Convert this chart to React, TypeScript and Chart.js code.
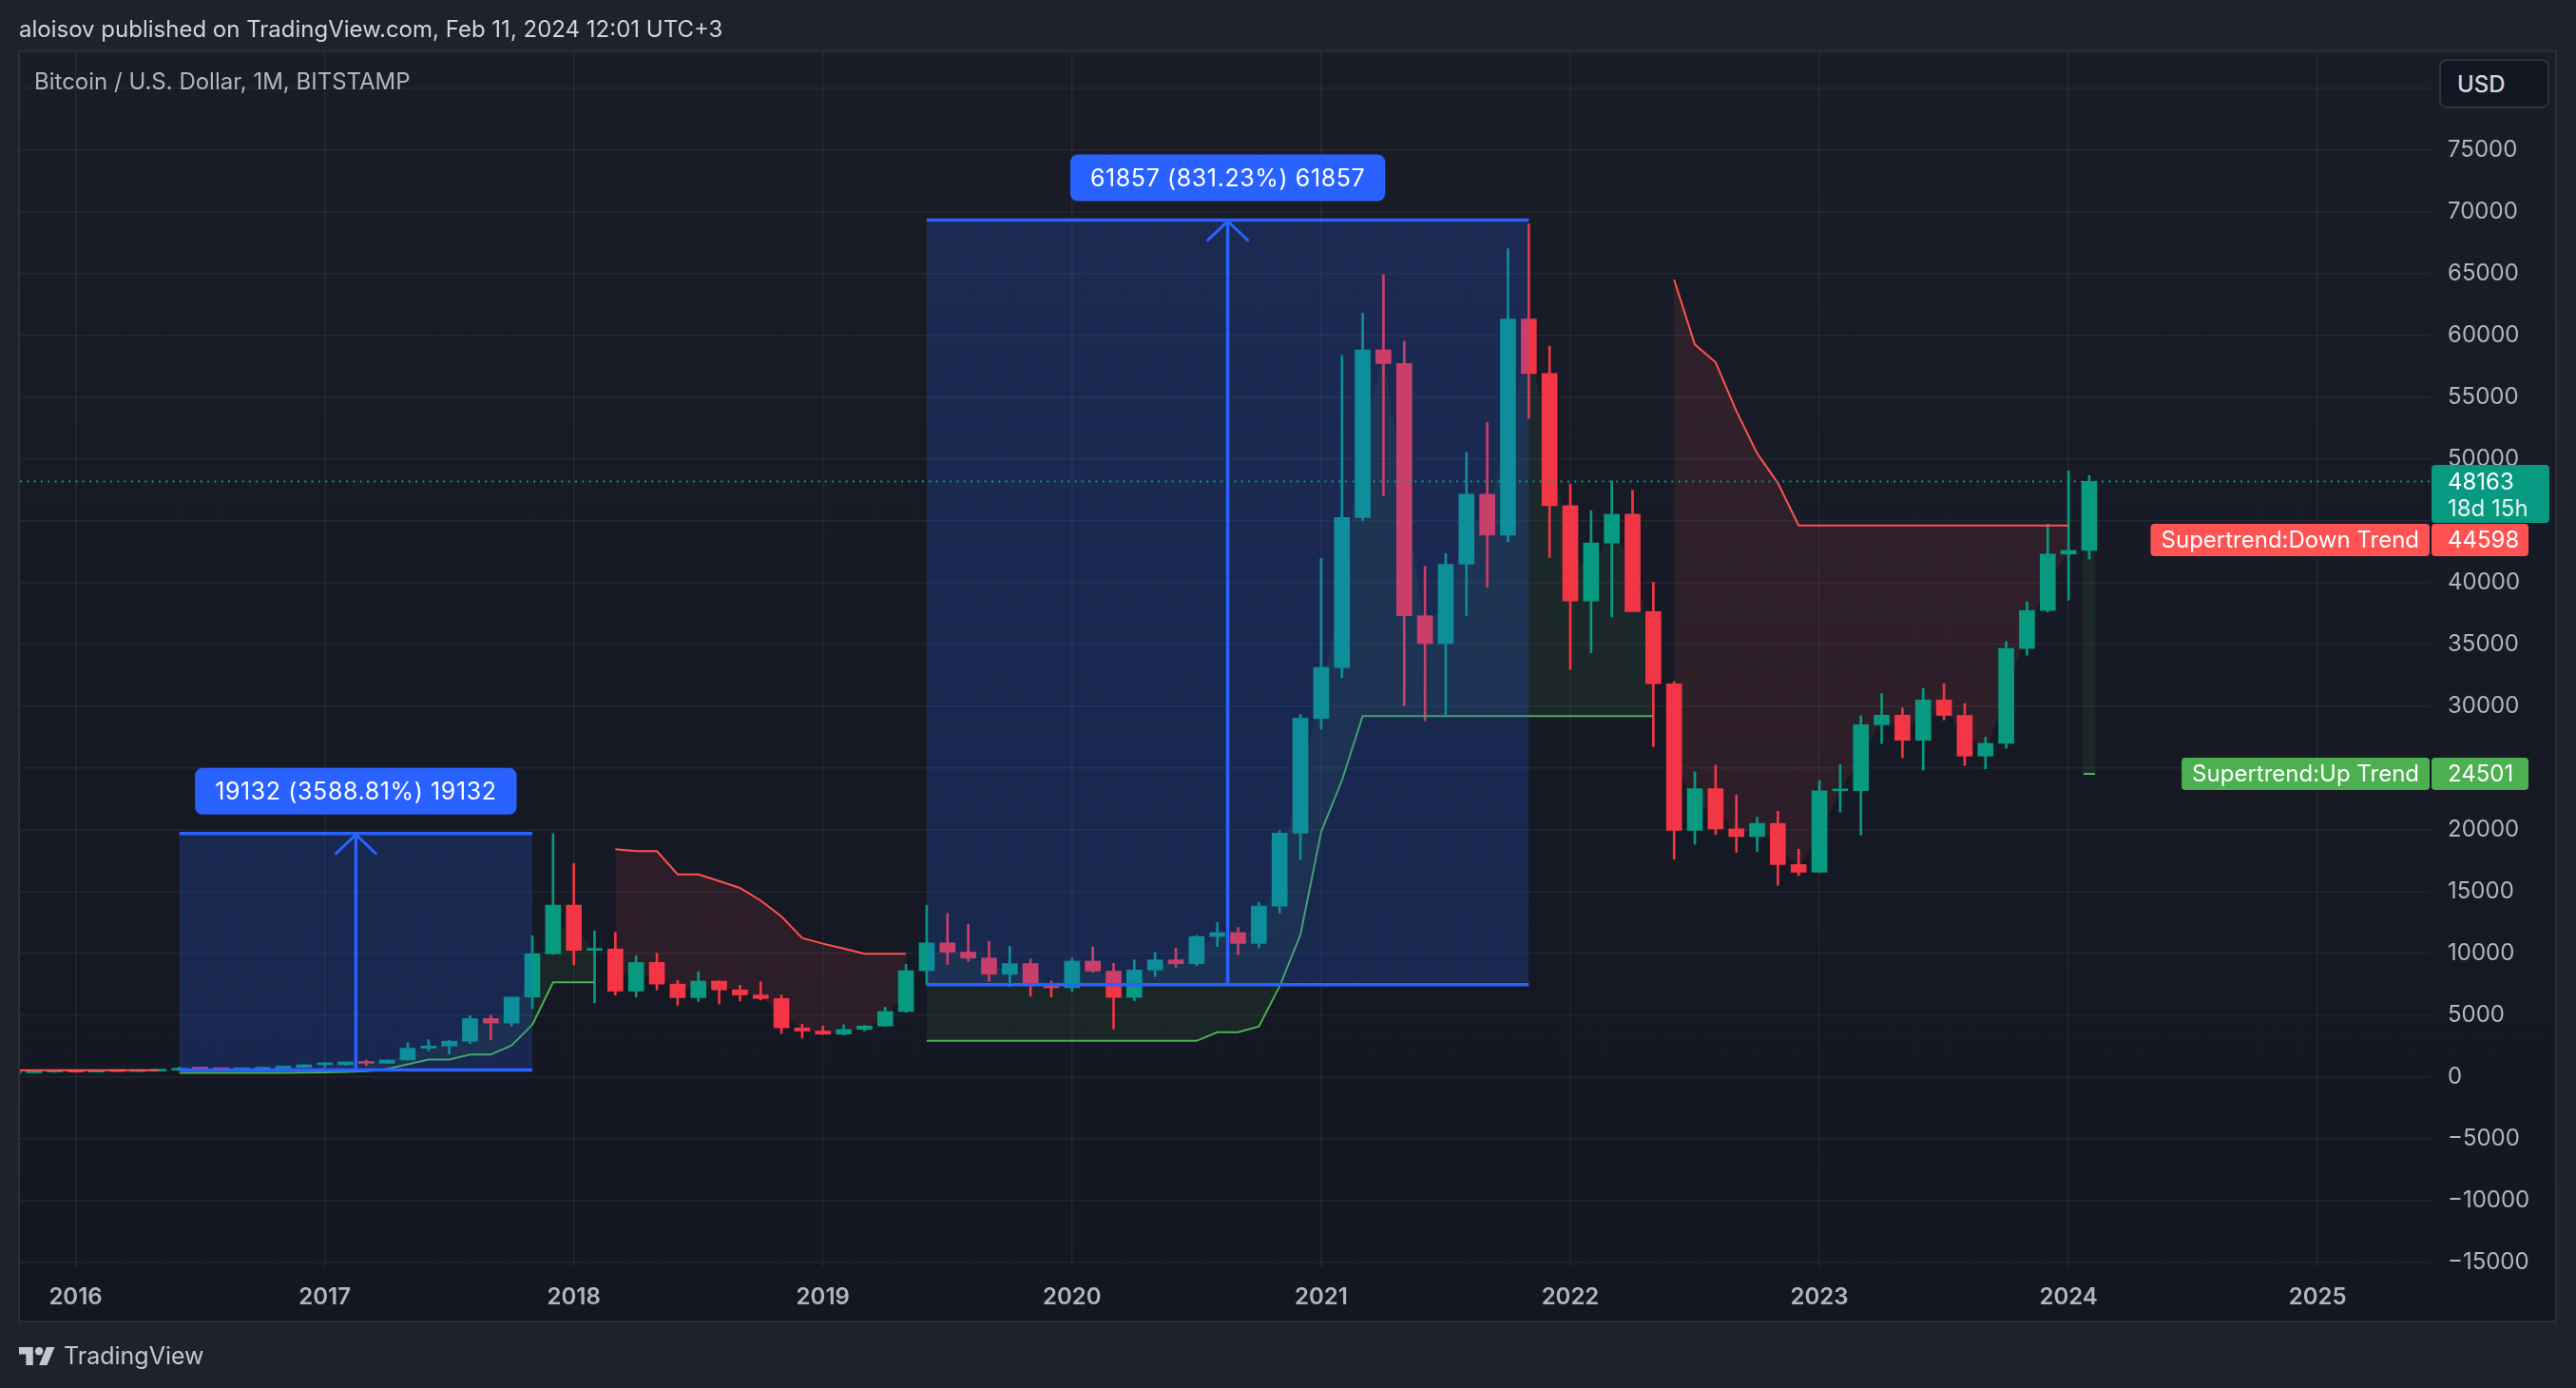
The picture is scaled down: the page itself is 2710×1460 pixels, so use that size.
import React, { useEffect, useRef } from 'react';
import { Chart, registerables } from 'chart.js';

Chart.register(...registerables);

// ---------- texts ----------
const HEADER_TEXT = 'aloisov published on TradingView.com, Feb 11, 2024 12:01 UTC+3';
const SYMBOL_TEXT = 'Bitcoin / U.S. Dollar, 1M, BITSTAMP';
const CURRENCY_TEXT = 'USD';
const BRAND_TEXT = 'TradingView';
const UP_LABEL = 'Supertrend:Up Trend';
const DOWN_LABEL = 'Supertrend:Down Trend';
const COUNTDOWN = '18d 15h';

// ---------- categories (monthly bars, Sep 2015 .. Feb 2024) ----------
const FIRST_YEAR = 2015;
const FIRST_MONTH = 9;
const BAR_COUNT = 102;
const MONTHS: string[] = [];
for (let i = 0; i < BAR_COUNT; i++) {
  const t = FIRST_MONTH - 1 + i;
  const yr = FIRST_YEAR + Math.floor(t / 12);
  const mo = (t % 12) + 1;
  MONTHS.push(`${yr}-${mo < 10 ? '0' + mo : mo}`);
}

// ---------- OHLC ----------
const OPEN = [
  230, 236, 311, 377,
  430, 368, 437, 416, 448, 530, 673, 624, 574, 608, 700, 745,
  964, 970, 1190, 1080, 1348, 2300, 2480, 2870, 4700, 4340, 6440, 9950,
  13880, 10220, 10330, 6920, 9240, 7490, 6390, 7730, 7020, 6610, 6320, 3950,
  3690, 3440, 3820, 4100, 5270, 8570, 10820, 10080, 9600, 8290, 9150, 7550,
  7190, 9350, 8540, 6410, 8630, 9450, 9140, 11340, 11660, 10780, 13800, 19700,
  28990, 33110, 45240, 58800, 57700, 37300, 35040, 41460, 47130, 43820, 61300, 56900,
  46200, 38480, 43180, 45510, 37630, 31790, 19930, 23300, 20050, 19420, 20490, 17160,
  16540, 23130, 23150, 28470, 29250, 27220, 30480, 29230, 25940, 26970, 34640, 37720,
  42280, 42580,
];
const HIGH = [
  245, 330, 502, 465,
  460, 448, 440, 467, 550, 780, 703, 627, 628, 736, 755, 980,
  1150, 1200, 1350, 1350, 2770, 3000, 2950, 4950, 4980, 6450, 11400, 19660,
  17250, 11790, 11680, 9770, 9990, 7760, 8500, 7760, 7400, 7680, 6590, 4240,
  4090, 4200, 4140, 5620, 9090, 13880, 13200, 12330, 10950, 10540, 9510, 7750,
  9580, 10500, 9170, 9460, 10070, 10390, 11440, 12470, 12070, 14100, 19900, 29300,
  41950, 58350, 61780, 64900, 59500, 41300, 42320, 50500, 52920, 67000, 69000, 59100,
  47950, 45800, 48200, 47440, 40000, 31960, 24660, 25200, 22800, 20990, 21470, 18400,
  23950, 25250, 29200, 31000, 29840, 31400, 31800, 30200, 27480, 35200, 38420, 44700,
  49000, 48650,
];
const LOW = [
  225, 236, 300, 350,
  355, 366, 390, 413, 437, 521, 605, 466, 570, 600, 682, 740,
  750, 920, 890, 1070, 1340, 2100, 1830, 2680, 2970, 4100, 5500, 9900,
  9040, 5970, 6600, 6450, 7030, 5780, 6080, 5880, 6120, 6200, 3500, 3120,
  3400, 3370, 3700, 4070, 5200, 7450, 9070, 9330, 7710, 7300, 6520, 6430,
  6870, 8450, 3850, 6150, 8100, 8850, 8990, 10520, 9880, 10420, 13230, 17570,
  28130, 32300, 45000, 47000, 30000, 28800, 29300, 37300, 39600, 43300, 53250, 42000,
  32950, 34300, 37200, 37700, 26700, 17600, 18800, 19600, 18150, 18200, 15480, 16260,
  16500, 21400, 19550, 26950, 25800, 24800, 28860, 25170, 24900, 26570, 34100, 37600,
  38550, 41880,
];
const CLOSE = [
  236, 311, 377, 430,
  368, 437, 416, 448, 530, 673, 624, 574, 608, 700, 745, 964,
  970, 1190, 1080, 1348, 2300, 2480, 2870, 4700, 4340, 6440, 9950, 13880,
  10220, 10330, 6920, 9240, 7490, 6390, 7730, 7020, 6610, 6320, 3950, 3690,
  3440, 3820, 4100, 5270, 8570, 10820, 10080, 9600, 8290, 9150, 7550, 7190,
  9350, 8540, 6410, 8630, 9450, 9140, 11340, 11660, 10780, 13800, 19700, 28990,
  33110, 45240, 58800, 57700, 37300, 35040, 41460, 47130, 43820, 61300, 56900, 46200,
  38480, 43180, 45510, 37630, 31790, 19930, 23300, 20050, 19420, 20490, 17160, 16540,
  23130, 23150, 28470, 29250, 27220, 30480, 29230, 25940, 26970, 34640, 37720, 42280,
  42580, 48163,
];

// ---------- Supertrend (null where the other trend is active) ----------
const N = null;
const SUPERTREND_UP: (number | null)[] = [
  N, N, N, N,
  N, N, N, N, N, 300, 300, 300, 300, 300, 310, 330,
  340, 380, 450, 614, 1000, 1380, 1380, 1790, 1790, 2530, 4200, 7630,
  7630, 7630, N, N, N, N, N, N, N, N, N, N,
  N, N, N, N, N, 2895, 2895, 2895, 2895, 2895, 2895, 2895,
  2895, 2895, 2895, 2895, 2895, 2895, 2895, 3590, 3590, 4070, 7320, 11470,
  19810, 23960, 29180, 29180, 29180, 29180, 29180, 29180, 29180, 29180, 29180, 29180,
  29180, 29180, 29180, 29180, 29180, N, N, N, N, N, N, N,
  N, N, N, N, N, N, N, N, N, N, N, N,
  N, 24501,
];
const SUPERTREND_DOWN: (number | null)[] = [
  520, 520, 520, 520,
  520, 520, 520, 520, 520, N, N, N, N, N, N, N,
  N, N, N, N, N, N, N, N, N, N, N, N,
  N, N, 18400, 18250, 18250, 16370, 16370, 15830, 15270, 14250, 12960, 11220,
  10760, 10370, 9940, 9940, 9940, N, N, N, N, N, N, N,
  N, N, N, N, N, N, N, N, N, N, N, N,
  N, N, N, N, N, N, N, N, N, N, N, N,
  N, N, N, N, N, 64480, 59240, 57800, 53860, 50430, 48030, 44598,
  44598, 44598, 44598, 44598, 44598, 44598, 44598, 44598, 44598, 44598, 44598, 44598,
  44598, N,
];

// ---------- axes ----------
const YEAR_LABELS = ['2016', '2017', '2018', '2019', '2020', '2021', '2022', '2023', '2024', '2025'];
const PRICE_TICKS = [
  -15000, -10000, -5000, 0, 5000, 10000, 15000, 20000, 25000, 30000,
  35000, 40000, 45000, 50000, 55000, 60000, 65000, 70000, 75000, 80000,
];
const HIDDEN_PRICE_LABELS = [80000, 45000, 25000];
const X_MIN = -2.68;
const X_MAX = 113.44;
const Y_MIN = -15423;
const Y_MAX = 82885;

// ---------- date-range measurements ----------
const RANGE_FROM = ['2016-06', '2019-06'];
const RANGE_TO = ['2017-11', '2021-11'];
const RANGE_LOW = [533.1, 7441.6];
const RANGE_HIGH = [19665.1, 69298.6];
const RANGE_TEXT = ['19132 (3588.81%) 19132', '61857 (831.23%) 61857'];

// ---------- styles ----------
const FONT = 'Inter, "Noto Sans", Roboto, sans-serif';
const CANDLE_UP = '#089981';
const CANDLE_DOWN = '#f23645';
const ST_UP = '#4caf50';
const ST_DOWN = '#ff5252';
const BLUE = '#2962ff';
const W = 2710;
const H = 1460;

function monthIndex(s: string) {
  const [y, m] = s.split('-').map(Number);
  return (y - 2016) * 12 + (m - 1);
}
function isolated(arr: (number | null)[], i: number) {
  return arr[i] != null && arr[i - 1] == null && arr[i + 1] == null;
}
function lastValue(arr: (number | null)[]) {
  for (let i = arr.length - 1; i >= 0; i--) if (arr[i] != null) return arr[i] as number;
  return null;
}
function rrect(ctx: CanvasRenderingContext2D, x: number, y: number, w: number, h: number, r: number) {
  ctx.beginPath();
  if ((ctx as any).roundRect) (ctx as any).roundRect(x, y, w, h, r);
  else ctx.rect(x, y, w, h);
  ctx.fill();
}

const bgPlugin = {
  id: 'tvBackground',
  beforeDraw(chart: any) {
    const { ctx, chartArea: a, scales } = chart;
    ctx.save();
    ctx.fillStyle = '#1f222d';
    ctx.fillRect(0, 0, chart.width, chart.height);
    const l = a.left - 1, t = a.top - 1, r = scales.y.right, b = scales.x.bottom;
    const g = ctx.createLinearGradient(0, t, 0, b);
    g.addColorStop(0, '#1a1d28');
    g.addColorStop(1, '#131722');
    ctx.fillStyle = g;
    ctx.fillRect(l, t, r - l, b - t);
    ctx.strokeStyle = '#2a2e39';
    ctx.lineWidth = 2;
    ctx.strokeRect(l, t, r - l, b - t);
    ctx.restore();
  },
};

const overlayPlugin = {
  id: 'tvOverlay',
  afterDatasetsDraw(chart: any) {
    const { ctx, chartArea: a, scales } = chart;
    const xs = scales.x, ys = scales.y;
    ctx.save();
    ctx.beginPath();
    ctx.rect(a.left, a.top, a.right - a.left, a.bottom - a.top);
    ctx.clip();
    for (let i = 0; i < RANGE_FROM.length; i++) {
      const x1 = xs.getPixelForValue(monthIndex(RANGE_FROM[i]));
      const x2 = xs.getPixelForValue(monthIndex(RANGE_TO[i]));
      const yT = ys.getPixelForValue(RANGE_HIGH[i]);
      const yB = ys.getPixelForValue(RANGE_LOW[i]);
      ctx.fillStyle = 'rgba(41,98,255,0.2)';
      ctx.fillRect(x1, yT, x2 - x1, yB - yT);
      ctx.strokeStyle = BLUE;
      ctx.lineWidth = 3.5;
      ctx.lineCap = 'butt';
      ctx.beginPath();
      ctx.moveTo(x1, yT); ctx.lineTo(x2, yT);
      ctx.moveTo(x1, yB); ctx.lineTo(x2, yB);
      const xm = (x1 + x2) / 2;
      ctx.moveTo(xm, yB); ctx.lineTo(xm, yT);
      ctx.stroke();
      ctx.lineWidth = 3;
      ctx.lineCap = 'round';
      ctx.beginPath();
      ctx.moveTo(xm - 21, yT + 21); ctx.lineTo(xm, yT + 1); ctx.lineTo(xm + 21, yT + 21);
      ctx.stroke();
      // label
      ctx.font = `25px ${FONT}`;
      (ctx as any).letterSpacing = '0.6px';
      const tw = ctx.measureText(RANGE_TEXT[i]).width;
      const lw = tw + 42, lh = 49;
      const ly = yT - 20 - lh;
      ctx.fillStyle = BLUE;
      rrect(ctx, xm - lw / 2, ly, lw, lh, 8);
      ctx.fillStyle = '#ffffff';
      ctx.textAlign = 'center';
      ctx.textBaseline = 'middle';
      ctx.fillText(RANGE_TEXT[i], xm, ly + lh / 2 + 1);
      (ctx as any).letterSpacing = '0px';
    }
    // current price dotted line
    const py = ys.getPixelForValue(CLOSE[CLOSE.length - 1]);
    ctx.strokeStyle = CANDLE_UP;
    ctx.lineWidth = 2;
    ctx.lineCap = 'butt';
    ctx.setLineDash([2, 5.3]);
    ctx.beginPath();
    ctx.moveTo(a.left, py); ctx.lineTo(a.right, py);
    ctx.stroke();
    ctx.restore();
  },
  afterDraw(chart: any) {
    const { ctx, chartArea: a, scales } = chart;
    const ys = scales.y;
    const tagL = a.right + 1;
    ctx.save();
    ctx.font = `24px ${FONT}`;
    ctx.textBaseline = 'middle';
    ctx.textAlign = 'left';
    // current price tag
    const last = CLOSE[CLOSE.length - 1];
    const py = ys.getPixelForValue(last);
    const tTop = py - 17.5, tH = 61;
    ctx.fillStyle = CANDLE_UP;
    rrect(ctx, tagL, tTop, 124, tH, 4);
    ctx.fillStyle = '#ffffff';
    ctx.fillText(String(last), tagL + 17, py + 1);
    ctx.fillStyle = 'rgba(255,255,255,0.9)';
    ctx.fillText(COUNTDOWN, tagL + 17, py + 29);
    const tBottom = tTop + tH;
    const series = [
      { v: lastValue(SUPERTREND_DOWN), name: DOWN_LABEL, color: ST_DOWN },
      { v: lastValue(SUPERTREND_UP), name: UP_LABEL, color: ST_UP },
    ];
    for (const s of series) {
      if (s.v == null) continue;
      let top = ys.getPixelForValue(s.v) - 17;
      if (top < tBottom && top + 34 > tTop) top = tBottom + 1;
      ctx.fillStyle = s.color;
      rrect(ctx, tagL, top, 102, 34, 4);
      const nw = ctx.measureText(s.name).width + 22;
      rrect(ctx, a.right - 1 - nw, top, nw, 34, 4);
      ctx.fillStyle = '#ffffff';
      ctx.fillText(String(s.v), tagL + 17, top + 18);
      ctx.fillText(s.name, a.right - 1 - nw + 11, top + 18);
    }
    ctx.restore();
  },
};

export default function App() {
  const ref = useRef<HTMLCanvasElement>(null);

  useEffect(() => {
    document.body.style.margin = '0';
    const canvas = ref.current;
    if (!canvas) return;
    const xsIdx = MONTHS.map(monthIndex);
    const mid = OPEN.map((o, i) => (o + CLOSE[i]) / 2);
    const upColor = (i: number) => (CLOSE[i] >= OPEN[i] ? CANDLE_UP : CANDLE_DOWN);
    const loneUp = xsIdx
      .map((x, i) => ({ x, y: [SUPERTREND_UP[i], mid[i]], i }))
      .filter((p) => isolated(SUPERTREND_UP, p.i))
      .map((p) => ({ x: p.x, y: p.y }));

    const chart = new Chart(canvas, {
      type: 'bar',
      data: {
        datasets: [
          {
            type: 'line',
            label: 'bodyMiddle',
            data: xsIdx.map((x, i) => ({ x, y: mid[i] })),
            borderWidth: 0,
            pointRadius: 0,
            fill: false,
            order: 10,
          },
          {
            type: 'line',
            label: 'upFill',
            data: xsIdx.map((x, i) => ({ x, y: SUPERTREND_UP[i] })),
            borderWidth: 0,
            pointRadius: 0,
            fill: { target: 0 },
            backgroundColor: 'rgba(76,175,80,0.09)',
            order: 9,
          },
          {
            type: 'line',
            label: 'downFill',
            data: xsIdx.map((x, i) => ({ x, y: SUPERTREND_DOWN[i] })),
            borderWidth: 0,
            pointRadius: 0,
            fill: { target: 0 },
            backgroundColor: 'rgba(255,82,82,0.1)',
            order: 9,
          },
          {
            type: 'bar',
            label: 'upFillSingle',
            data: loneUp as any,
            backgroundColor: 'rgba(76,175,80,0.09)',
            barThickness: 12,
            grouped: false,
            order: 9,
          },
          {
            type: 'bar',
            label: 'wicks',
            data: xsIdx.map((x, i) => ({ x, y: [LOW[i], HIGH[i]] })) as any,
            backgroundColor: (c: any) => upColor(c.dataIndex),
            barThickness: 2,
            grouped: false,
            order: 5,
          },
          {
            type: 'bar',
            label: 'bodies',
            data: xsIdx.map((x, i) => ({ x, y: [OPEN[i], CLOSE[i]] })) as any,
            backgroundColor: (c: any) => upColor(c.dataIndex),
            barThickness: 16,
            minBarLength: 2,
            grouped: false,
            order: 4,
          },
          {
            type: 'line',
            label: 'Supertrend Up',
            data: xsIdx.map((x, i) => ({ x, y: SUPERTREND_UP[i] })),
            borderColor: ST_UP,
            borderWidth: 2,
            pointStyle: 'line',
            pointRadius: (c: any) => (isolated(SUPERTREND_UP, c.dataIndex) ? 6 : 0),
            pointBorderColor: ST_UP,
            pointBorderWidth: 2,
            fill: false,
            order: 2,
          },
          {
            type: 'line',
            label: 'Supertrend Down',
            data: xsIdx.map((x, i) => ({ x, y: SUPERTREND_DOWN[i] })),
            borderColor: ST_DOWN,
            borderWidth: 2,
            pointRadius: 0,
            fill: false,
            order: 2,
          },
        ] as any,
      },
      options: {
        animation: false,
        responsive: false,
        maintainAspectRatio: false,
        devicePixelRatio: 1,
        events: [],
        layout: { padding: { left: 21, top: 55, right: 21, bottom: 70 } },
        plugins: {
          legend: { display: false },
          tooltip: { enabled: false },
        },
        scales: {
          x: {
            type: 'linear',
            min: X_MIN,
            max: X_MAX,
            offset: false,
            grid: { color: 'rgba(255,255,255,0.055)', lineWidth: 1.5, drawTicks: false, offset: false },
            border: { display: false },
            afterBuildTicks: (scale: any) => {
              scale.ticks = YEAR_LABELS.map((y) => ({ value: monthIndex(`${y}-01`) }));
            },
            afterFit: (scale: any) => {
              scale.height = 57;
            },
            ticks: {
              autoSkip: false,
              maxRotation: 0,
              padding: 17,
              color: '#b2b5be',
              font: { family: FONT, size: 24, weight: '600' },
              callback: (_v: any, i: number) => YEAR_LABELS[i],
            },
          },
          y: {
            type: 'linear',
            position: 'right',
            min: Y_MIN,
            max: Y_MAX,
            grid: { color: 'rgba(255,255,255,0.055)', lineWidth: 1.5, drawTicks: false },
            border: { display: false },
            afterBuildTicks: (scale: any) => {
              scale.ticks = PRICE_TICKS.map((v) => ({ value: v }));
            },
            afterFit: (scale: any) => {
              scale.width = 132;
            },
            ticks: {
              autoSkip: false,
              padding: 18,
              color: '#b2b5be',
              font: { family: FONT, size: 24 },
              callback: (v: any) => {
                const n = Number(v);
                if (HIDDEN_PRICE_LABELS.includes(n)) return '';
                return n < 0 ? '\u2212' + Math.abs(n) : String(n);
              },
            },
          },
        },
      } as any,
      plugins: [bgPlugin, overlayPlugin],
    });
    return () => chart.destroy();
  }, []);

  return (
    <div
      style={{
        position: 'fixed',
        left: 0,
        top: 0,
        width: W,
        height: H,
        background: '#1f222d',
        overflow: 'hidden',
        fontFamily: FONT,
      }}
    >
      <canvas ref={ref} width={W} height={H} style={{ position: 'absolute', left: 0, top: 0, width: W, height: H }} />
      <div
        style={{
          position: 'absolute', left: 20, top: 17, fontSize: 24, lineHeight: '28px',
          color: '#d1d4dc', whiteSpace: 'nowrap',
        }}
      >
        {HEADER_TEXT}
      </div>
      <div
        style={{
          position: 'absolute', left: 36, top: 72, fontSize: 24, lineHeight: '28px',
          color: '#b2b5be', whiteSpace: 'nowrap',
        }}
      >
        {SYMBOL_TEXT}
      </div>
      <div
        style={{
          position: 'absolute', left: 2566, top: 62, width: 116, height: 52, boxSizing: 'border-box',
          border: '2px solid #2e323d', borderRadius: 8, background: '#131722', color: '#d1d4dc',
          fontSize: 24, fontWeight: 500, display: 'flex', alignItems: 'center', paddingLeft: 17,
        }}
      >
        {CURRENCY_TEXT}
      </div>
      <div
        style={{
          position: 'absolute', left: 20, top: 1411, height: 30, display: 'flex', alignItems: 'center',
          color: '#c4c7ce', fontSize: 25, whiteSpace: 'nowrap',
        }}
      >
        <svg width={38} height={19} viewBox="0 4 36 18" style={{ marginRight: 9 }}>
          <path d="M14 22H7V11H0V4h14v18zM28 22h-8l7.5-18h8L28 22z" fill="#c4c7ce" />
          <circle cx={20} cy={8} r={4} fill="#c4c7ce" />
        </svg>
        <span>{BRAND_TEXT}</span>
      </div>
    </div>
  );
}
